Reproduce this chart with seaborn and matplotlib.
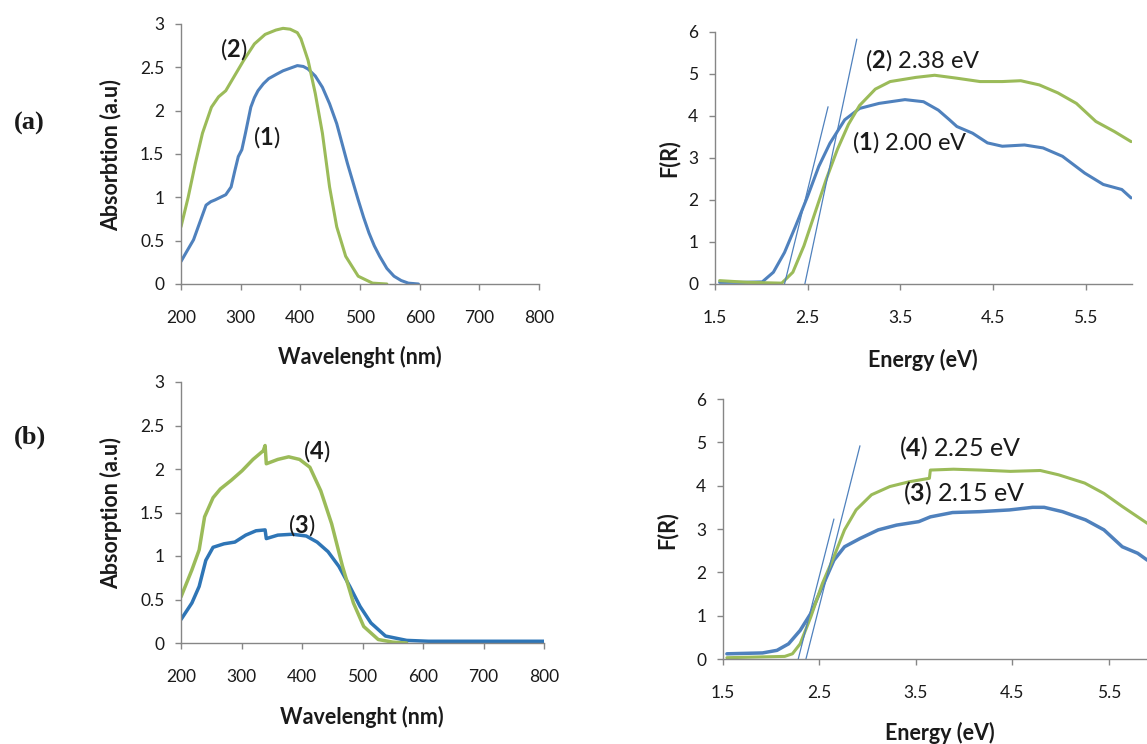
import matplotlib
matplotlib.use("Agg")
import matplotlib.pyplot as plt
import seaborn as sns
import numpy as np

# ---------------- data ----------------
# (a) absorption spectra
wl_1 = [200, 210, 221, 232, 242, 250, 257, 266, 275, 284, 290, 296, 302, 308, 317, 323, 329, 338, 347, 360,
        371, 383, 395, 405, 413, 425, 437, 449, 461, 470, 479, 488, 497, 506, 515, 524, 533, 545, 557, 569, 581, 598]
abs_1 = [0.26, 0.38, 0.51, 0.72, 0.91, 0.95, 0.97, 1.0, 1.03, 1.12, 1.3, 1.47, 1.55, 1.74, 2.04, 2.15, 2.23, 2.31, 2.37, 2.42,
         2.46, 2.49, 2.52, 2.51, 2.48, 2.4, 2.27, 2.08, 1.85, 1.62, 1.39, 1.18, 0.97, 0.77, 0.59, 0.44, 0.32, 0.18, 0.09, 0.04, 0.01, 0.0]
wl_2 = [200, 212, 224, 236, 251, 263, 275, 287, 305, 323, 341, 359, 371, 383, 395, 401, 413, 425, 437,
        449, 461, 476, 497, 521, 545]
abs_2 = [0.66, 1.0, 1.39, 1.74, 2.04, 2.16, 2.23, 2.37, 2.58, 2.77, 2.88, 2.93, 2.95, 2.94, 2.9, 2.83, 2.58, 2.2, 1.74,
         1.12, 0.66, 0.32, 0.09, 0.01, 0.0]

# (a) Kubelka-Munk
E_1 = [1.55, 1.80, 2.01, 2.13, 2.25, 2.37, 2.50, 2.62, 2.74, 2.90, 3.06, 3.27, 3.55, 3.75, 3.91, 4.03, 4.11, 4.28,
       4.44, 4.60, 4.84, 5.04, 5.25, 5.49, 5.69, 5.89, 5.99]
FR_1 = [0.04, 0.04, 0.05, 0.28, 0.75, 1.38, 2.09, 2.80, 3.35, 3.91, 4.18, 4.30, 4.39, 4.34, 4.14, 3.91, 3.75, 3.59,
        3.36, 3.28, 3.31, 3.24, 3.04, 2.64, 2.37, 2.25, 2.05]
E_2 = [1.55, 1.85, 2.22, 2.34, 2.46, 2.58, 2.70, 2.82, 2.94, 3.06, 3.23, 3.39, 3.67, 3.87, 4.11, 4.36, 4.60, 4.80,
       5.00, 5.20, 5.40, 5.61, 5.81, 5.99]
FR_2 = [0.08, 0.04, 0.02, 0.28, 0.91, 1.70, 2.49, 3.20, 3.80, 4.25, 4.64, 4.82, 4.92, 4.97, 4.90, 4.82, 4.82, 4.84,
        4.74, 4.55, 4.30, 3.87, 3.63, 3.39]
tan_a1_x = [2.25, 2.72]
tan_a1_y = [0.0, 4.22]
tan_a2_x = [2.46, 3.03]
tan_a2_y = [-0.1, 5.83]

# (b) absorption spectra
wl_3 = [200, 218, 230, 241, 253, 271, 289, 307, 324, 339, 341, 360, 384, 407, 425, 443, 461, 479, 496, 514,
        538, 573, 609, 700, 800]
abs_3 = [0.27, 0.46, 0.65, 0.95, 1.10, 1.14, 1.16, 1.24, 1.29, 1.30, 1.20, 1.24, 1.25, 1.23, 1.16, 1.05, 0.88, 0.65, 0.42, 0.23,
         0.08, 0.03, 0.02, 0.02, 0.02]
wl_4 = [200, 218, 230, 239, 253, 265, 283, 301, 319, 336, 339, 341, 360, 378, 396, 413, 431, 449, 467, 485,
        502, 526, 550, 573]
abs_4 = [0.53, 0.84, 1.07, 1.45, 1.67, 1.77, 1.87, 1.98, 2.11, 2.21, 2.27, 2.06, 2.11, 2.14, 2.11, 2.02, 1.75, 1.37, 0.88, 0.46,
         0.19, 0.04, 0.01, 0.0]

# (b) Kubelka-Munk
E_3 = [1.54, 1.91, 2.06, 2.18, 2.30, 2.41, 2.53, 2.65, 2.76, 2.92, 3.11, 3.30, 3.53, 3.65, 3.88, 4.16, 4.47, 4.71,
       4.83, 5.02, 5.26, 5.45, 5.64, 5.80, 5.90]
FR_3 = [0.12, 0.14, 0.20, 0.35, 0.66, 1.05, 1.67, 2.28, 2.59, 2.78, 2.98, 3.09, 3.17, 3.28, 3.38, 3.40, 3.44, 3.50,
        3.50, 3.40, 3.21, 2.98, 2.59, 2.44, 2.28]
E_4 = [1.54, 2.14, 2.22, 2.30, 2.41, 2.53, 2.65, 2.76, 2.88, 3.04, 3.23, 3.43, 3.64, 3.65, 3.89, 4.17, 4.48, 4.79,
       4.98, 5.25, 5.45, 5.64, 5.80, 5.90]
FR_4 = [0.03, 0.06, 0.12, 0.35, 0.97, 1.74, 2.36, 2.98, 3.44, 3.79, 3.98, 4.09, 4.17, 4.36, 4.38, 4.36, 4.33, 4.35,
        4.25, 4.06, 3.82, 3.52, 3.28, 3.13]
tan_b1_x = [2.28, 2.65]
tan_b1_y = [0.0, 3.23]
tan_b2_x = [2.36, 2.92]
tan_b2_y = [0.0, 4.92]

wl_ticks = [200, 300, 400, 500, 600, 700, 800]
wl_ticklabels = ["200", "300", "400", "500", "600", "700", "800"]
abs_ticks = [0, 0.5, 1, 1.5, 2, 2.5, 3]
abs_ticklabels = ["0", "0.5", "1", "1.5", "2", "2.5", "3"]
E_ticks = [1.5, 2.5, 3.5, 4.5, 5.5]
E_ticklabels = ["1.5", "2.5", "3.5", "4.5", "5.5"]
FR_ticks = [0, 1, 2, 3, 4, 5, 6]
FR_ticklabels = ["0", "1", "2", "3", "4", "5", "6"]

# ---------------- style ----------------
sns.set_theme(style="ticks")
plt.rcParams['font.family'] = ['Lato', 'DejaVu Sans']
plt.rcParams['mathtext.fontset'] = 'custom'
plt.rcParams['mathtext.rm'] = 'Lato'
plt.rcParams['mathtext.bf'] = 'Lato:bold'

BLUE = "#4F81BD"
BLUE2 = "#2E75B6"
GREEN = "#9BBB59"
AX = "#868686"
TXT = "#1a1a1a"

W, H = 1147, 744
fig = plt.figure(figsize=(W / 100, H / 100), dpi=100)


def add_ax(l, t, r, b):
    return fig.add_axes([l / W, 1 - b / H, (r - l) / W, (b - t) / H])


def style(ax, xlim, ylim, xt, xtl, yt, ytl, xlabel, ylabel, xl_pos, yl_pos):
    ax.set_xlim(*xlim)
    ax.set_ylim(*ylim)
    ax.set_xticks(xt)
    ax.set_xticklabels(xtl)
    ax.set_yticks(yt)
    ax.set_yticklabels(ytl)
    for s in ["top", "right"]:
        ax.spines[s].set_visible(False)
    for s in ["left", "bottom"]:
        ax.spines[s].set_color(AX)
        ax.spines[s].set_linewidth(1.0)
    ax.tick_params(axis="both", direction="out", length=4, width=1, color=AX,
                   labelsize=12.5, labelcolor=TXT)
    ax.tick_params(axis="x", pad=15)
    ax.tick_params(axis="y", pad=8)
    ax.set_xlabel(xlabel, fontsize=15.5, fontweight="bold", color=TXT, va="center", ha="center")
    ax.set_ylabel(ylabel, fontsize=15.5, fontweight="bold", color=TXT, va="center", ha="center")
    ax.xaxis.set_label_coords(xl_pos[0] / W, 1 - xl_pos[1] / H, transform=fig.transFigure)
    ax.yaxis.set_label_coords(yl_pos[0] / W, 1 - yl_pos[1] / H, transform=fig.transFigure)
    ax.set_facecolor("white")
    ax.grid(False)


LW = 2.2

# (a) absorption
ax1 = add_ax(181, 24, 539, 284)
sns.lineplot(x=wl_1, y=abs_1, ax=ax1, color=BLUE, lw=LW, sort=False)
sns.lineplot(x=wl_2, y=abs_2, ax=ax1, color=GREEN, lw=LW, sort=False)
style(ax1, (200, 800), (0, 3), wl_ticks, wl_ticklabels, abs_ticks, abs_ticklabels,
      "Wavelenght (nm)", "Absorbtion (a.u)", (360, 357), (111, 155))
ax1.text(288, 2.71, r"($\mathbf{2}$)", fontsize=17, color=TXT, ha="center", va="center")
ax1.text(343, 1.69, r"($\mathbf{1}$)", fontsize=17, color=TXT, ha="center", va="center")

# (a) F(R)
ax2 = add_ax(715, 32, 1132, 284)
sns.lineplot(x=E_1, y=FR_1, ax=ax2, color=BLUE, lw=LW, sort=False)
sns.lineplot(x=E_2, y=FR_2, ax=ax2, color=GREEN, lw=LW, sort=False)
sns.lineplot(x=tan_a1_x, y=tan_a1_y, ax=ax2, color=BLUE, lw=0.9, sort=False)
sns.lineplot(x=tan_a2_x, y=tan_a2_y, ax=ax2, color=BLUE, lw=0.9, sort=False)
style(ax2, (1.5, 6.0), (0, 6), E_ticks, E_ticklabels, FR_ticks, FR_ticklabels,
      "Energy (eV)", "F(R)", (923, 360), (669, 158))
ax2.text(3.12, 5.34, r"($\mathbf{2}$) 2.38 eV", fontsize=17, color=TXT, ha="left", va="center")
ax2.text(2.98, 3.37, r"($\mathbf{1}$) 2.00 eV", fontsize=17, color=TXT, ha="left", va="center")

# (b) absorption
ax3 = add_ax(181, 382, 544, 643)
sns.lineplot(x=wl_3, y=abs_3, ax=ax3, color=BLUE2, lw=LW + 0.3, sort=False)
sns.lineplot(x=wl_4, y=abs_4, ax=ax3, color=GREEN, lw=LW + 0.3, sort=False)
style(ax3, (200, 800), (0, 3), wl_ticks, wl_ticklabels, abs_ticks, abs_ticklabels,
      "Wavelenght (nm)", "Absorption (a.u)", (362, 717), (111, 513))
ax3.text(425, 2.21, r"($\mathbf{4}$)", fontsize=17, color=TXT, ha="center", va="center")
ax3.text(400, 1.35, r"($\mathbf{3}$)", fontsize=17, color=TXT, ha="center", va="center")

# (b) F(R)
ax4 = add_ax(723, 399, 1157, 659)
sns.lineplot(x=E_3, y=FR_3, ax=ax4, color=BLUE, lw=LW + 0.3, sort=False)
sns.lineplot(x=E_4, y=FR_4, ax=ax4, color=GREEN, lw=LW, sort=False)
sns.lineplot(x=tan_b1_x, y=tan_b1_y, ax=ax4, color=BLUE, lw=0.9, sort=False)
sns.lineplot(x=tan_b2_x, y=tan_b2_y, ax=ax4, color=BLUE, lw=0.9, sort=False)
style(ax4, (1.5, 6.0), (0, 6), E_ticks, E_ticklabels, FR_ticks, FR_ticklabels,
      "Energy (eV)", "F(R)", (940, 733), (667, 530))
ax4.text(3.33, 4.87, r"($\mathbf{4}$) 2.25 eV", fontsize=18, color=TXT, ha="left", va="center")
ax4.text(3.37, 3.83, r"($\mathbf{3}$) 2.15 eV", fontsize=18, color=TXT, ha="left", va="center")

# panel letters
fig.text(29 / W, 1 - 123 / H, "(a)", fontsize=19, fontweight="bold", family="Liberation Serif",
         ha="center", va="center", color=TXT)
fig.text(30 / W, 1 - 437 / H, "(b)", fontsize=19, fontweight="bold", family="Liberation Serif",
         ha="center", va="center", color=TXT)

fig.savefig("out.png", dpi=100, facecolor="white")
